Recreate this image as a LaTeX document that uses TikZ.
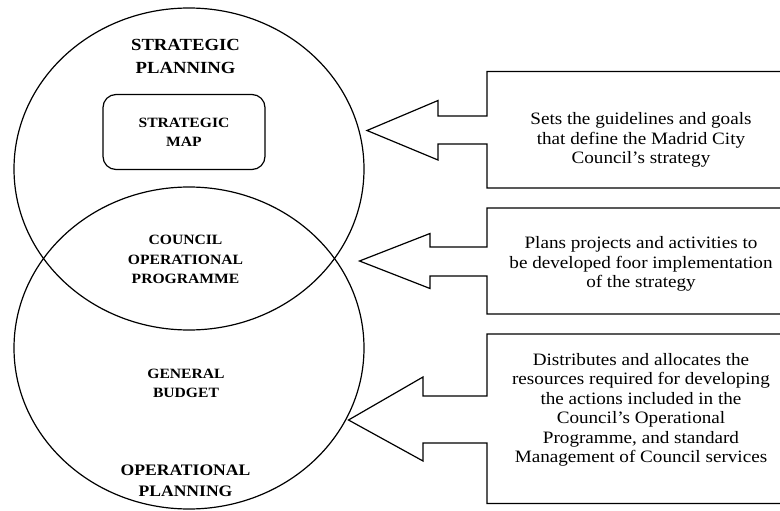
\documentclass[tikz,border=0pt]{standalone}
\usepackage{fontspec}
\setmainfont{Liberation Serif}[FakeStretch=1.1]
\begin{document}
\begin{tikzpicture}[x=1pt,y=-1pt,
  ringline/.style={draw, line width=1.2pt},
  calloutline/.style={draw, line width=1.2pt, line join=miter},
  mapbox/.style={draw, line width=1.2pt, rounded corners=13pt, minimum width=162pt, minimum height=75pt, inner sep=0pt, align=center, font=\bfseries\fontsize{14.2}{19}\selectfont},
  headtop/.style={align=center, inner sep=0pt, font=\bfseries\fontsize{17}{23.3}\selectfont},
  headbot/.style={align=center, inner sep=0pt, font=\bfseries\fontsize{16}{21.7}\selectfont},
  innertext/.style={align=center, inner sep=0pt, font=\bfseries\fontsize{14.2}{19.3}\selectfont},
  bodytext/.style={align=center, inner sep=0pt, font=\fontsize{17.4}{19.5}\selectfont}]
\useasboundingbox (0,0) rectangle (780,511);

% circles
\coordinate (topc) at (189,169);
\coordinate (botc) at (189,348);
\draw[ringline] (topc) ellipse [x radius=175pt, y radius=161pt];
\draw[ringline] (botc) ellipse [x radius=175pt, y radius=161pt];

% texts in circles
\node[headtop] (sp) at (185.5,56.7) {STRATEGIC\\PLANNING};
\node[mapbox] (map) at (184,132) {STRATEGIC\\MAP};
\node[innertext] (cop) at (185.5,259.5) {COUNCIL\\OPERATIONAL\\PROGRAMME};
\node[innertext] (gb) at (186,383.5) {GENERAL\\BUDGET};
\node[headbot] (op) at (185.5,480.8) {OPERATIONAL\\PLANNING};

% callout 1
\coordinate (tip1) at (367,130.5);
\draw[calloutline] (780,71.5) -- (487,71.5) -- (487,116) -- (438,116) -- (438,100.5) -- (tip1)
  -- (438,160) -- (438,144) -- (487,144) -- (487,188) -- (780,188);
\node[bodytext] (txt1) at (641,140) {Sets the guidelines and goals\\that define the Madrid City\\Council’s strategy};

% callout 2
\coordinate (tip2) at (359.5,261);
\draw[calloutline] (780,208) -- (487,208) -- (487,247) -- (430,247) -- (430,233.5) -- (tip2)
  -- (430,288.5) -- (430,276) -- (487,276) -- (487,314) -- (780,314);
\node[bodytext] (txt2) at (641,264) {Plans projects and activities to\\be developed foor implementation\\of the strategy};

% callout 3
\coordinate (tip3) at (348.5,420);
\draw[calloutline] (780,334) -- (487,334) -- (487,396) -- (423,396) -- (423,377) -- (tip3)
  -- (423,461) -- (423,443) -- (487,443) -- (487,503.5) -- (780,503.5);
\node[bodytext] (txt3) at (641,410) {Distributes and allocates the\\resources required for developing\\the actions included in the\\Council’s Operational\\Programme, and standard\\Management of Council services};
\end{tikzpicture}
\end{document}
